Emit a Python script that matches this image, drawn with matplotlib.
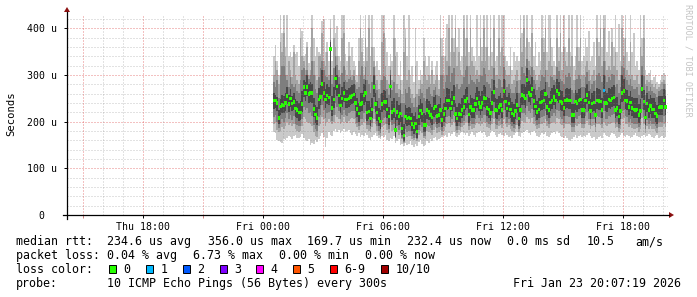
import numpy as np
import matplotlib.pyplot as plt
from matplotlib.patches import Rectangle, Polygon

W, H = 697, 297
MONO = "DejaVu Sans Mono"

# time is counted in hours from Fri 00:00
first_sample = 0.5        # 00:30
step_h = 5 / 60           # 10 pings every 300 s
x_range = (-9.8, 20.25)
y_range = (0, 430)

tick_hours = [-6, 0, 6, 12, 18]
tick_labels = ["Thu 18:00", "Fri 00:00", "Fri 06:00", "Fri 12:00", "Fri 18:00"]
y_ticks = [0, 100, 200, 300, 400]
y_labels = ["0  ", "100 u", "200 u", "300 u", "400 u"]

# median rtt per round (us)
median = [
    246, 246, 240, 208, 233, 236,
    235, 240, 255, 238, 250, 239, 242, 228, 225, 220, 220, 238,
    274, 262, 274, 260, 262, 262, 227, 215, 208, 248, 253, 281,
    262, 248, 256, 252, 356, 230, 248, 293, 276, 256, 235, 250,
    262, 248, 248, 250, 253, 256, 258, 240, 227, 218, 238, 240,
    256, 262, 220, 222, 207, 226, 275, 238, 220, 207, 200, 238,
    243, 242, 226, 211, 276, 221, 225, 182, 221, 211, 218, 186,
    170, 211, 207, 209, 207, 195, 189, 196, 179, 211, 224, 218,
    193, 193, 225, 221, 214, 209, 228, 233, 212, 214, 225, 204,
    217, 228, 246, 246, 228, 240, 251, 217, 207, 217, 215, 225,
    232, 245, 250, 215, 232, 225, 225, 238, 250, 240, 232, 240,
    251, 250, 229, 226, 219, 240, 264, 225, 224, 232, 236, 225,
    266, 243, 228, 239, 226, 218, 214, 223, 236, 207, 225, 257,
    255, 250, 289, 262, 257, 270, 245, 233, 221, 226, 241, 243,
    246, 260, 232, 225, 241, 246, 253, 246, 266, 260, 243, 240,
    229, 246, 247, 246, 246, 214, 214, 243, 239, 246, 248, 225,
    225, 246, 257, 241, 223, 239, 241, 214, 246, 245, 243, 225,
    267, 240, 239, 248, 246, 250, 252, 225, 229, 211, 223, 262,
    266, 246, 245, 232, 241, 229, 226, 225, 226, 214, 223, 270,
    243, 209, 239, 225, 234, 226, 226, 218, 212, 231, 232, 232,
    246, 232,
]

# 1st and 10th ping of each round
ping_min = [
    178, 175, 160, 158, 156, 155,
    162, 160, 165, 170, 168, 163, 170, 172, 166, 165, 168, 174,
    165, 160, 158, 162, 150, 155, 152, 160, 156, 162, 170, 175,
    168, 145, 165, 178, 172, 170, 180, 185, 178, 182, 176, 180,
    184, 178, 180, 183, 176, 172, 178, 174, 170, 176, 168, 172,
    170, 175, 172, 165, 160, 168, 172, 176, 170, 165, 162, 170,
    168, 172, 160, 158, 165, 162, 170, 155, 158, 162, 150, 152,
    148, 155, 150, 152, 158, 150, 145, 152, 148, 156, 160, 152,
    148, 150, 158, 155, 162, 158, 165, 168, 160, 162, 165, 168,
    170, 172, 168, 175, 170, 174, 178, 170, 168, 172, 175, 178,
    175, 172, 176, 170, 174, 178, 172, 168, 175, 178, 180, 176,
    178, 172, 168, 170, 175, 180, 178, 172, 168, 174, 176, 172,
    170, 175, 172, 168, 170, 166, 172, 175, 178, 170, 168, 175,
    178, 180, 182, 176, 172, 178, 180, 175, 170, 168, 172, 176,
    174, 178, 170, 168, 172, 176, 178, 174, 180, 176, 170, 168,
    165, 170, 166, 160, 158, 162, 168, 172, 166, 170, 172, 168,
    170, 168, 172, 175, 170, 165, 168, 160, 164, 168, 170, 165,
    175, 172, 170, 168, 172, 176, 174, 170, 165, 168, 172, 175,
    170, 168, 172, 170, 165, 168, 172, 175, 170, 168, 165, 170,
    172, 168, 170, 174, 172, 168, 165, 170, 172, 165, 168, 170,
    166, 168,
]
ping_max = [
    340, 365, 330, 300, 430, 390,
    430, 360, 430, 340, 350, 338, 365, 345, 350, 320, 402, 395,
    340, 345, 370, 325, 360, 430, 380, 340, 360, 350, 345, 415,
    420, 350, 370, 330, 420, 330, 430, 390, 405, 340, 330, 430,
    430, 345, 330, 370, 340, 360, 330, 320, 300, 380, 430, 380,
    330, 430, 360, 430, 340, 430, 360, 320, 330, 310, 300, 430,
    430, 380, 350, 320, 345, 330, 430, 380, 350, 300, 330, 290,
    430, 400, 340, 430, 300, 320, 285, 400, 330, 290, 310, 300,
    380, 340, 320, 340, 300, 330, 300, 320, 330, 290, 430, 380,
    340, 380, 410, 430, 350, 430, 380, 430, 360, 400, 330, 340,
    430, 380, 430, 350, 430, 360, 340, 330, 430, 340, 430, 360,
    430, 360, 430, 340, 430, 350, 430, 330, 340, 430, 350, 430,
    430, 340, 330, 320, 360, 310, 350, 330, 340, 330, 430, 390,
    430, 360, 430, 370, 360, 430, 340, 370, 320, 350, 330, 430,
    380, 430, 350, 430, 430, 360, 330, 320, 430, 360, 430, 350,
    430, 360, 350, 430, 350, 430, 320, 340, 430, 360, 430, 330,
    340, 380, 360, 395, 330, 340, 370, 320, 430, 370, 430, 360,
    430, 430, 350, 395, 340, 400, 360, 430, 350, 410, 330, 430,
    380, 430, 350, 330, 430, 350, 390, 320, 330, 310, 430, 380,
    430, 310, 300, 305, 310, 290, 295, 300, 285, 280, 290, 300,
    305, 300,
]

# 2nd and 9th ping
ping_lo = [
    195, 200, 182, 178, 180, 188,
    185, 190, 200, 192, 198, 190, 195, 185, 180, 178, 180, 190,
    210, 205, 200, 198, 195, 190, 178, 170, 168, 190, 195, 210,
    205, 190, 200, 205, 200, 195, 200, 215, 210, 205, 195, 200,
    210, 200, 198, 202, 205, 208, 205, 195, 188, 182, 190, 192,
    200, 205, 185, 180, 178, 188, 205, 195, 180, 172, 168, 188,
    192, 195, 182, 175, 200, 180, 182, 165, 178, 172, 175, 162,
    155, 172, 168, 170, 170, 162, 160, 165, 158, 172, 180, 176,
    165, 162, 180, 178, 175, 172, 182, 188, 175, 178, 182, 172,
    180, 188, 195, 198, 188, 192, 200, 180, 175, 182, 180, 188,
    192, 198, 200, 182, 190, 185, 186, 192, 198, 195, 190, 195,
    200, 198, 188, 186, 182, 195, 205, 185, 184, 190, 192, 186,
    205, 195, 188, 192, 185, 180, 178, 185, 192, 178, 186, 202,
    200, 198, 210, 205, 200, 208, 195, 190, 184, 186, 195, 196,
    198, 205, 190, 186, 195, 198, 200, 196, 208, 205, 195, 192,
    186, 195, 196, 195, 194, 178, 178, 194, 190, 196, 198, 186,
    186, 196, 202, 192, 184, 190, 192, 178, 196, 195, 194, 186,
    200, 192, 190, 196, 195, 198, 200, 186, 188, 178, 184, 205,
    208, 196, 195, 188, 192, 186, 185, 184, 186, 178, 184, 208,
    195, 176, 190, 184, 190, 185, 185, 180, 176, 188, 188, 188,
    196, 188,
]
ping_hi = [
    300, 330, 310, 280, 370, 350,
    390, 340, 300, 330, 310, 295, 350, 300, 290, 280, 380, 340,
    330, 310, 360, 300, 310, 400, 330, 300, 290, 340, 340, 390,
    330, 320, 350, 300, 400, 300, 380, 360, 340, 310, 300, 380,
    390, 310, 300, 340, 310, 300, 310, 290, 285, 330, 400, 350,
    300, 380, 330, 400, 300, 360, 330, 300, 290, 270, 290, 370,
    390, 320, 290, 280, 320, 290, 380, 340, 280, 270, 290, 260,
    350, 380, 290, 310, 270, 260, 250, 320, 260, 270, 290, 280,
    330, 300, 290, 300, 280, 310, 280, 290, 300, 270, 380, 340,
    300, 340, 330, 400, 320, 380, 350, 400, 320, 350, 310, 300,
    400, 340, 380, 320, 400, 330, 320, 300, 310, 300, 380, 330,
    400, 330, 360, 310, 380, 320, 400, 300, 300, 380, 320, 360,
    340, 310, 300, 300, 320, 280, 290, 300, 310, 290, 380, 350,
    400, 320, 380, 330, 320, 390, 310, 300, 290, 300, 310, 380,
    350, 400, 310, 330, 380, 320, 300, 300, 380, 330, 390, 310,
    360, 330, 320, 380, 320, 340, 290, 310, 360, 330, 380, 300,
    300, 320, 330, 310, 290, 300, 310, 290, 380, 340, 400, 320,
    400, 330, 310, 320, 310, 370, 320, 350, 310, 290, 300, 400,
    340, 380, 310, 300, 370, 300, 290, 290, 300, 280, 360, 340,
    380, 280, 290, 285, 290, 280, 275, 280, 270, 275, 280, 285,
    290, 280,
]

# 3rd and 8th ping
ping_p3 = [
    210, 214, 200, 186, 196, 205,
    200, 208, 218, 205, 215, 204, 212, 196, 192, 190, 190, 206,
    232, 225, 230, 218, 220, 212, 192, 184, 180, 210, 214, 236,
    225, 208, 218, 220, 222, 202, 214, 240, 232, 222, 205, 215,
    226, 214, 212, 218, 220, 222, 222, 208, 198, 190, 205, 206,
    218, 222, 192, 192, 184, 198, 228, 206, 190, 180, 175, 204,
    208, 210, 195, 184, 225, 192, 195, 166, 190, 182, 188, 166,
    156, 184, 178, 180, 180, 170, 166, 172, 162, 182, 192, 188,
    170, 170, 192, 190, 186, 182, 195, 200, 186, 188, 195, 180,
    190, 198, 210, 212, 198, 206, 215, 190, 182, 190, 188, 197,
    202, 212, 214, 190, 202, 196, 196, 205, 214, 208, 202, 208,
    215, 214, 200, 196, 192, 208, 222, 196, 194, 202, 205, 196,
    225, 210, 198, 205, 196, 190, 186, 194, 204, 184, 196, 218,
    218, 214, 234, 222, 218, 228, 210, 202, 194, 196, 208, 210,
    212, 222, 202, 196, 208, 212, 218, 212, 226, 222, 210, 206,
    198, 212, 212, 210, 210, 188, 188, 208, 205, 212, 214, 196,
    196, 212, 220, 206, 194, 205, 206, 188, 212, 210, 208, 196,
    222, 206, 205, 212, 210, 215, 216, 196, 200, 186, 194, 222,
    225, 212, 210, 200, 206, 198, 196, 195, 196, 188, 194, 228,
    210, 184, 204, 196, 202, 196, 196, 190, 186, 200, 200, 200,
    212, 200,
]
ping_p8 = [
    285, 275, 290, 250, 300, 320,
    320, 300, 290, 275, 295, 280, 275, 280, 265, 262, 290, 310,
    315, 300, 312, 292, 300, 330, 300, 270, 262, 295, 315, 330,
    310, 298, 295, 290, 375, 280, 315, 340, 322, 296, 280, 305,
    320, 290, 285, 292, 295, 290, 298, 278, 270, 275, 300, 320,
    292, 318, 290, 280, 262, 285, 318, 282, 268, 250, 260, 290,
    298, 295, 270, 258, 312, 268, 285, 262, 262, 252, 268, 240,
    240, 270, 262, 275, 250, 240, 232, 252, 232, 255, 270, 262,
    250, 245, 270, 275, 260, 255, 268, 275, 258, 255, 300, 300,
    270, 285, 300, 320, 285, 305, 315, 275, 280, 270, 275, 280,
    295, 310, 320, 280, 300, 290, 285, 282, 292, 285, 300, 298,
    315, 302, 285, 280, 272, 292, 315, 275, 272, 292, 290, 275,
    318, 290, 275, 282, 270, 262, 262, 275, 288, 262, 290, 318,
    305, 298, 335, 310, 300, 318, 290, 280, 268, 275, 288, 300,
    295, 312, 285, 275, 298, 296, 290, 285, 318, 308, 292, 288,
    280, 300, 296, 305, 296, 268, 262, 290, 292, 300, 292, 275,
    275, 296, 306, 288, 270, 282, 288, 265, 300, 305, 298, 285,
    330, 298, 286, 296, 290, 302, 300, 275, 282, 262, 275, 320,
    316, 295, 290, 278, 292, 276, 270, 270, 275, 258, 274, 320,
    298, 258, 276, 266, 274, 265, 262, 260, 252, 265, 268, 270,
    280, 268,
]

# 4th and 7th ping
ping_q_lo = [
    228, 230, 222, 195, 215, 218,
    218, 222, 238, 220, 232, 222, 225, 210, 208, 202, 204, 220,
    252, 244, 255, 240, 242, 240, 210, 198, 192, 228, 235, 258,
    245, 230, 238, 235, 255, 212, 230, 268, 255, 238, 218, 232,
    242, 230, 230, 232, 235, 238, 240, 222, 210, 200, 220, 222,
    236, 242, 202, 205, 190, 208, 252, 220, 202, 190, 184, 220,
    225, 224, 208, 194, 250, 204, 208, 168, 204, 194, 200, 172,
    158, 195, 190, 192, 190, 180, 174, 180, 166, 194, 206, 200,
    178, 178, 206, 204, 198, 192, 210, 215, 196, 198, 208, 188,
    200, 210, 226, 228, 210, 222, 232, 200, 190, 200, 198, 208,
    214, 226, 230, 198, 214, 208, 208, 220, 230, 222, 215, 222,
    232, 230, 212, 208, 202, 222, 242, 208, 206, 214, 218, 208,
    245, 225, 210, 220, 208, 200, 196, 205, 218, 190, 208, 236,
    235, 230, 260, 242, 236, 250, 226, 215, 204, 208, 222, 225,
    228, 240, 214, 208, 222, 228, 235, 228, 245, 240, 225, 222,
    212, 228, 230, 228, 228, 198, 198, 225, 220, 228, 230, 208,
    208, 228, 238, 222, 206, 220, 222, 198, 228, 226, 225, 208,
    245, 222, 220, 230, 228, 232, 234, 208, 212, 195, 206, 242,
    245, 228, 226, 214, 222, 212, 208, 208, 208, 198, 206, 250,
    225, 194, 220, 208, 216, 208, 208, 200, 196, 214, 215, 215,
    228, 215,
]
ping_q_hi = [
    262, 258, 252, 225, 248, 258,
    255, 262, 275, 258, 270, 255, 262, 248, 245, 240, 245, 265,
    290, 285, 300, 280, 285, 282, 250, 235, 232, 272, 278, 310,
    285, 270, 280, 275, 370, 255, 275, 320, 300, 280, 258, 275,
    285, 270, 268, 272, 275, 278, 282, 262, 250, 240, 262, 262,
    280, 290, 245, 245, 232, 250, 300, 262, 244, 230, 225, 262,
    268, 265, 250, 232, 300, 245, 250, 210, 245, 235, 240, 210,
    195, 235, 230, 232, 230, 218, 212, 220, 205, 235, 248, 240,
    218, 215, 248, 245, 238, 232, 252, 258, 236, 238, 250, 228,
    240, 252, 272, 270, 250, 265, 278, 240, 232, 240, 238, 250,
    258, 270, 275, 240, 258, 250, 248, 262, 275, 265, 256, 265,
    278, 275, 252, 250, 242, 265, 290, 250, 248, 256, 262, 250,
    292, 268, 252, 262, 250, 242, 238, 248, 262, 232, 250, 282,
    280, 275, 315, 288, 282, 295, 270, 258, 245, 250, 266, 268,
    270, 285, 258, 250, 266, 272, 278, 270, 292, 285, 268, 265,
    252, 270, 272, 270, 272, 238, 238, 268, 262, 270, 272, 248,
    250, 272, 282, 265, 248, 262, 265, 238, 272, 270, 268, 250,
    300, 265, 262, 272, 270, 275, 278, 250, 254, 236, 248, 300,
    292, 270, 268, 256, 265, 252, 250, 250, 250, 238, 248, 300,
    268, 235, 262, 248, 258, 250, 250, 242, 236, 255, 256, 256,
    270, 255,
]

# rounds that lost pings (hour, lost of 10)
loss_time = [17.0]
loss_count = [1]

loss_colors = ["#26ff00", "#00b8ff", "#0059ff", "#7e00ff",
               "#ff00ff", "#ff5500", "#ff0000", "#a00000"]
loss_names = ["0", "1", "2", "3", "4", "5", "6-9", "10/10"]


def fx(px):
    return px / W


def fy(py):
    return 1 - py / H


fig = plt.figure(figsize=(W / 100, H / 100), dpi=100)
ax = fig.add_axes([fx(67), fy(215), (668 - 67) / W, (215 - 14.5) / H])
ax.set_xlim(*x_range)
ax.set_ylim(*y_range)
for s in ax.spines.values():
    s.set_visible(False)

n = len(median)
edges = first_sample + step_h * np.arange(n + 1)

# smoke, outermost pair first (smokeping grey levels)
for lo, hi, col in [(ping_min, ping_max, "#cacaca"),
                    (ping_lo, ping_hi, "#a4a4a4"),
                    (ping_p3, ping_p8, "#7e7e7e"),
                    (ping_q_lo, ping_q_hi, "#484848")]:
    ax.fill_between(edges, np.append(lo, lo[-1]), np.append(hi, hi[-1]),
                    step="post", color=col, linewidth=0, zorder=1)

lost = np.zeros(n, dtype=int)
for t, c in zip(loss_time, loss_count):
    lost[int(round((t - first_sample) / step_h))] = c
col_idx = [k if k <= 5 else (6 if k < 10 else 7) for k in lost]
med = np.array(median, dtype=float)
ax.bar(edges[:-1] + step_h / 2, 7.5, bottom=med - 3.75, width=step_h * 1.4, align="center",
       color=[loss_colors[k] for k in col_idx], linewidth=0, zorder=3)

# rrdtool style dotted grid on top of the graph
dots = (0, (1, 2))
major_col = (0.85, 0.2, 0.2, 0.6)
minor_col = (0.5, 0.5, 0.5, 0.45)
for v in range(20, 430, 20):
    ax.axhline(v, color=major_col if v % 100 == 0 else minor_col, lw=0.72, ls=dots, zorder=4)
for h in range(-9, 21):
    ax.axvline(h, color=major_col if h % 3 == 0 else minor_col, lw=0.72, ls=dots, zorder=4)

ax.set_xticks(tick_hours)
ax.set_xticklabels(tick_labels, family=MONO, fontsize=7.1)
ax.set_xticks([h for h in range(-9, 21, 3) if h not in tick_hours], minor=True)
ax.set_yticks(y_ticks)
ax.set_yticklabels(y_labels, family=MONO, fontsize=7.1)
ax.tick_params(axis="both", which="major", length=2.5, width=0.7, color="black")
ax.tick_params(axis="x", which="major", pad=2.2)
ax.tick_params(axis="y", which="major", pad=4.5)
ax.tick_params(axis="x", which="minor", length=2.0, width=0.7, color="#d08080")

# axis lines with arrows
arrow_col = "#8c1010"
fig.add_artist(plt.Line2D([fx(63), fx(669)], [fy(215), fy(215)], color="black", lw=0.9))
fig.add_artist(plt.Line2D([fx(67), fx(67)], [fy(219), fy(12)], color="black", lw=0.9))
fig.add_artist(Polygon([[fx(669), fy(212)], [fx(674), fy(215)], [fx(669), fy(218)]],
                       closed=True, transform=fig.transFigure, color=arrow_col, lw=0))
fig.add_artist(Polygon([[fx(64), fy(12)], [fx(67), fy(7)], [fx(70), fy(12)]],
                       closed=True, transform=fig.transFigure, color=arrow_col, lw=0))

fig.text(fx(11), fy(114), "Seconds", rotation=90, ha="center", va="center",
         family=MONO, fontsize=7.6)
fig.text(fx(688), fy(60), "RRDTOOL / TOBI OETIKER", rotation=270, ha="center",
         va="center", family=MONO, fontsize=6.1, color="#c4c4c4")

# legend block under the graph
fs = 8.35
rows = [
    (241.7, [(16, "median rtt:"), (107, "234.6 us avg"), (207.5, "356.0 us max"),
             (307, "169.7 us min"), (406.7, "232.4 us now"), (507, "0.0 ms sd"),
             (586.7, "10.5"), (635, "am/s")]),
    (255.3, [(16, "packet loss:"), (107, "0.04 % avg"), (193, "6.73 % max"),
             (279, "0.00 % min"), (365, "0.00 % now")]),
    (269.3, [(16, "loss color:")]),
    (283.3, [(16, "probe:"), (107, "10 ICMP Echo Pings (56 Bytes) every 300s"),
             (513.3, "Fri Jan 23 20:07:19 2026")]),
]
for y, items in rows:
    for x, s in items:
        fig.text(fx(x), fy(y), s, ha="left", va="center", family=MONO, fontsize=fs)

box_x = [108.7, 145.7, 182.7, 219.7, 256.0, 292.7, 330.0, 381.0]
for bx, col, name in zip(box_x, loss_colors, loss_names):
    fig.add_artist(Rectangle((fx(bx), fy(273.3)), 7 / W, 8 / H, transform=fig.transFigure,
                             facecolor=col, edgecolor="black", lw=0.7))
    fig.text(fx(bx + 14.5), fy(269.3), name, ha="left", va="center", family=MONO, fontsize=fs)

fig.savefig("out.png", dpi=100)
